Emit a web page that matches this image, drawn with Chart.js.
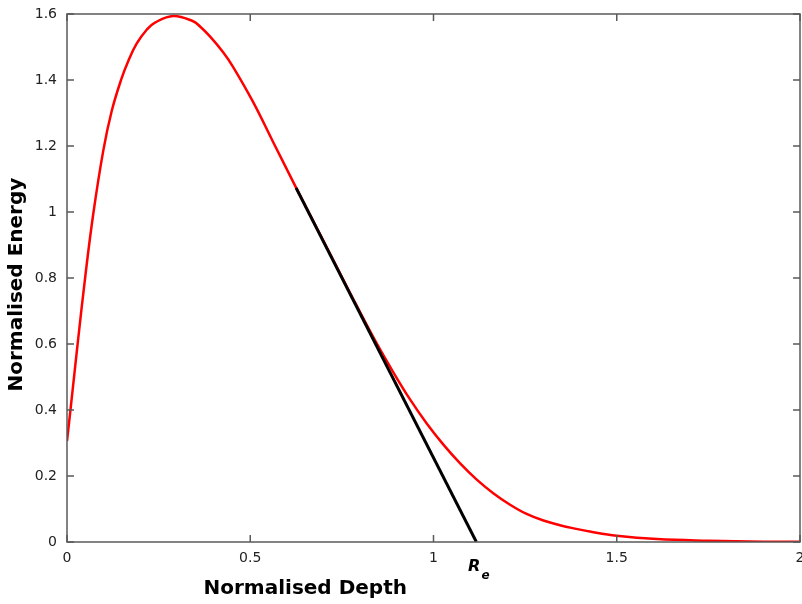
<!DOCTYPE html>
<html>
<head>
<meta charset="utf-8">
<script src="https://cdn.jsdelivr.net/npm/chart.js@4.4.1/dist/chart.umd.min.js"></script>
<style>
  html, body { margin: 0; padding: 0; background: #fff; }
  #wrap { width: 802px; height: 604px; }
</style>
</head>
<body>
<div id="wrap"><canvas id="energy"></canvas></div>
<script>
// depth-energy curve
const depth  = [0, 0.010, 0.030, 0.050, 0.072, 0.099, 0.122, 0.148, 0.167, 0.19, 0.218, 0.24, 0.29, 0.344, 0.363, 0.39, 0.426, 0.453, 0.508, 0.562, 0.625, 0.70, 0.77, 0.836, 0.89, 0.936, 0.981, 1.027, 1.072, 1.118, 1.163, 1.209, 1.254, 1.30, 1.345, 1.38, 1.43, 1.50, 1.61, 1.75, 1.90, 2.0];
const energy = [0.306, 0.406, 0.61, 0.806, 0.997, 1.186, 1.306, 1.402, 1.457, 1.51, 1.553, 1.574, 1.594, 1.578, 1.562, 1.532, 1.484, 1.44, 1.333, 1.213, 1.074, 0.912, 0.76, 0.62, 0.515, 0.432, 0.36, 0.295, 0.239, 0.189, 0.148, 0.113, 0.085, 0.065, 0.051, 0.042, 0.031, 0.019, 0.009, 0.004, 0.001, 0.0005];

// tangent line down to the practical range R_e
const tangentX = [0.625, 1.117];
const tangentY = [1.073, 0];

const xTicks = [0, 0.5, 1, 1.5, 2];
const yTicks = [0, 0.2, 0.4, 0.6, 0.8, 1, 1.2, 1.4, 1.6];

function toPoints(xs, ys) {
    return xs.map((x, i) => ({x: x, y: ys[i]}));
}

// frame, inward ticks and the axis texts
const framePlugin = {
    id: 'frame',
    afterDraw(chart) {
        const ctx = chart.ctx;
        const a = chart.chartArea;
        const xs = chart.scales.x, ys = chart.scales.y;
        ctx.save();
        ctx.strokeStyle = '#5a5a5a';
        ctx.lineWidth = 1.5;
        ctx.strokeRect(a.left, a.top, a.right - a.left, a.bottom - a.top);
        ctx.beginPath();
        xTicks.forEach(v => {
            let px = xs.getPixelForValue(v);
            ctx.moveTo(px, a.bottom); ctx.lineTo(px, a.bottom - 7);
            ctx.moveTo(px, a.top); ctx.lineTo(px, a.top + 7);
        });
        yTicks.forEach(v => {
            let py = ys.getPixelForValue(v);
            ctx.moveTo(a.left, py); ctx.lineTo(a.left + 7, py);
            ctx.moveTo(a.right, py); ctx.lineTo(a.right - 7, py);
        });
        ctx.stroke();

        ctx.fillStyle = '#000';
        ctx.font = 'bold 20px "DejaVu Sans"';
        ctx.textAlign = 'center';
        ctx.textBaseline = 'middle';
        ctx.fillText('Normalised Depth', xs.getPixelForValue(0.65), 589);

        ctx.save();
        ctx.translate(17, ys.getPixelForValue(0.78));
        ctx.rotate(-Math.PI / 2);
        ctx.fillText('Normalised Energy', 0, 0);
        ctx.restore();

        // R_e marker under the end of the tangent
        let rx = xs.getPixelForValue(tangentX[1]);
        ctx.font = 'bold italic 16px "DejaVu Sans"';
        ctx.textAlign = 'right';
        ctx.fillText('R', rx + 4, 567);
        ctx.font = 'bold italic 12px "DejaVu Sans"';
        ctx.textAlign = 'left';
        ctx.fillText('e', rx + 5, 576);
        ctx.restore();
    }
};

const cfg = {
    type: 'scatter',
    data: {
        datasets: [
            {
                label: 'tangent',
                data: toPoints(tangentX, tangentY),
                showLine: true,
                borderColor: '#000',
                borderWidth: 3,
                pointRadius: 0,
                order: 1
            },
            {
                label: 'energy',
                data: toPoints(depth, energy),
                showLine: true,
                borderColor: '#ff0000',
                borderWidth: 2.5,
                pointRadius: 0,
                tension: 0.4,
                order: 2
            }
        ]
    },
    plugins: [framePlugin],
    options: {
        responsive: true,
        maintainAspectRatio: false,
        animation: false,
        layout: { padding: { top: 14, right: 2, left: 0, bottom: 0 } },
        plugins: { legend: { display: false }, tooltip: { enabled: false } },
        scales: {
            x: {
                type: 'linear',
                min: 0, max: 2,
                afterBuildTicks: s => { s.ticks = xTicks.map(v => ({value: v})); },
                afterFit: s => { s.height = 62; s.paddingLeft = 0; s.paddingRight = 0; },
                grid: { display: false, drawTicks: false },
                border: { display: false },
                ticks: {
                    padding: 8,
                    color: '#222',
                    font: { family: 'DejaVu Sans', size: 14 },
                    callback: v => String(v)
                }
            },
            y: {
                type: 'linear',
                min: 0, max: 1.6,
                afterBuildTicks: s => { s.ticks = yTicks.map(v => ({value: v})); },
                afterFit: s => { s.width = 67; s.paddingTop = 0; s.paddingBottom = 0; },
                grid: { display: false, drawTicks: false },
                border: { display: false },
                ticks: {
                    padding: 10,
                    color: '#222',
                    font: { family: 'DejaVu Sans', size: 14 },
                    callback: v => String(v)
                }
            }
        }
    }
};

new Chart(document.getElementById('energy'), cfg);
</script>
</body>
</html>
